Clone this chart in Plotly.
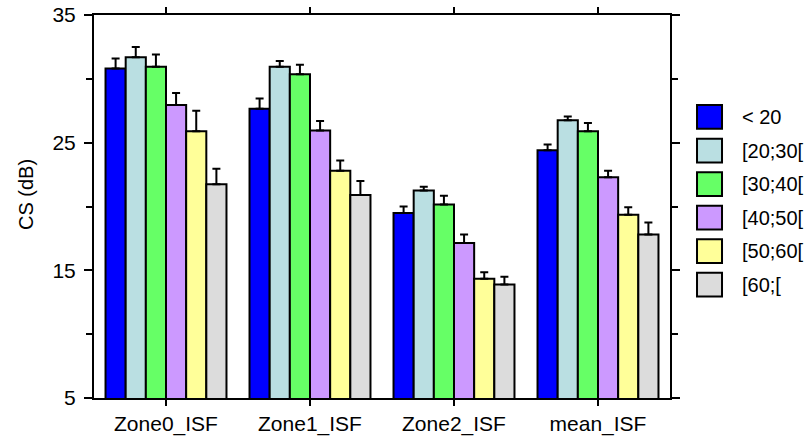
import plotly.graph_objects as go

# Contrast sensitivity by zone and age group
zones = ["Zone0_ISF", "Zone1_ISF", "Zone2_ISF", "mean_ISF"]
age_groups = ["< 20", "[20;30[", "[30;40[", "[40;50[", "[50;60[", "[60;["]
colors = ["#0000FF", "#BADFE2", "#66FF66", "#CC99FF", "#FFFF99", "#DCDCDC"]

cs_lt20 = [30.8, 27.65, 19.5, 24.4]
cs_20_30 = [31.7, 30.95, 21.25, 26.75]
cs_30_40 = [30.95, 30.35, 20.15, 25.9]
cs_40_50 = [27.95, 25.95, 17.15, 22.3]
cs_50_60 = [25.9, 22.8, 14.35, 19.35]
cs_60p = [21.75, 20.9, 13.9, 17.8]

err_lt20 = [0.8, 0.8, 0.5, 0.45]
err_20_30 = [0.8, 0.45, 0.3, 0.3]
err_30_40 = [0.95, 0.75, 0.7, 0.65]
err_40_50 = [0.95, 0.75, 0.65, 0.5]
err_50_60 = [1.6, 0.8, 0.5, 0.6]
err_60p = [1.2, 1.1, 0.6, 0.95]

values = [cs_lt20, cs_20_30, cs_30_40, cs_40_50, cs_50_60, cs_60p]
errors = [err_lt20, err_20_30, err_30_40, err_40_50, err_50_60, err_60p]

FONT = "Arial, Liberation Sans, sans-serif"

fig = go.Figure()
for name, col, vals, errs in zip(age_groups, colors, values, errors):
    fig.add_trace(go.Bar(
        x=zones, y=vals, name=name,
        marker=dict(color=col, line=dict(color="black", width=2)),
        error_y=dict(type="data", array=errs, arrayminus=[0] * len(errs),
                     symmetric=False, color="black", thickness=2, width=4),
        showlegend=False,
    ))

# Legend drawn as boxes + labels on the right
x0, x1, xt = 1.0469, 1.0903, 1.1215
ytop, step, half = 0.7337, 0.0875, 0.031
for i, (name, col) in enumerate(zip(age_groups, colors)):
    yc = ytop - i * step
    fig.add_shape(type="rect", xref="paper", yref="paper",
                  x0=x0, x1=x1, y0=yc - half, y1=yc + half,
                  fillcolor=col, line=dict(color="black", width=2))
    fig.add_annotation(xref="paper", yref="paper", x=xt, y=yc,
                       text=name, showarrow=False, xanchor="left", yanchor="middle",
                       font=dict(family=FONT, size=20, color="black"))

# y-axis title
fig.add_annotation(xref="paper", yref="paper", x=-0.118, y=0.53,
                   text="CS (dB)", textangle=-90, showarrow=False,
                   xanchor="center", yanchor="middle",
                   font=dict(family=FONT, size=20, color="black"))

fig.update_layout(
    width=807, height=439,
    margin=dict(l=94, r=137, t=15, b=41),
    paper_bgcolor="white", plot_bgcolor="white",
    barmode="group", bargap=0.16, bargroupgap=0,
    font=dict(family=FONT, size=20, color="black"),
)
fig.update_xaxes(
    range=[-0.5, 3.5], showline=True, linecolor="black", linewidth=2,
    mirror="ticks", ticks="outside", ticklen=6, tickwidth=2, tickcolor="black",
    showgrid=False, tickfont=dict(family=FONT, size=21), automargin=False,
)
fig.update_yaxes(
    range=[5, 35], tick0=5, dtick=10, showline=True, linecolor="black", linewidth=2,
    mirror="ticks", ticks="outside", ticklen=8, tickwidth=2, tickcolor="black",
    minor=dict(dtick=5, tick0=5, ticks="outside", ticklen=6, tickwidth=2, tickcolor="black"),
    showgrid=False, zeroline=False, tickfont=dict(family=FONT, size=21),
    ticklabelstandoff=4, automargin=False,
)

fig.write_html("out.html")
